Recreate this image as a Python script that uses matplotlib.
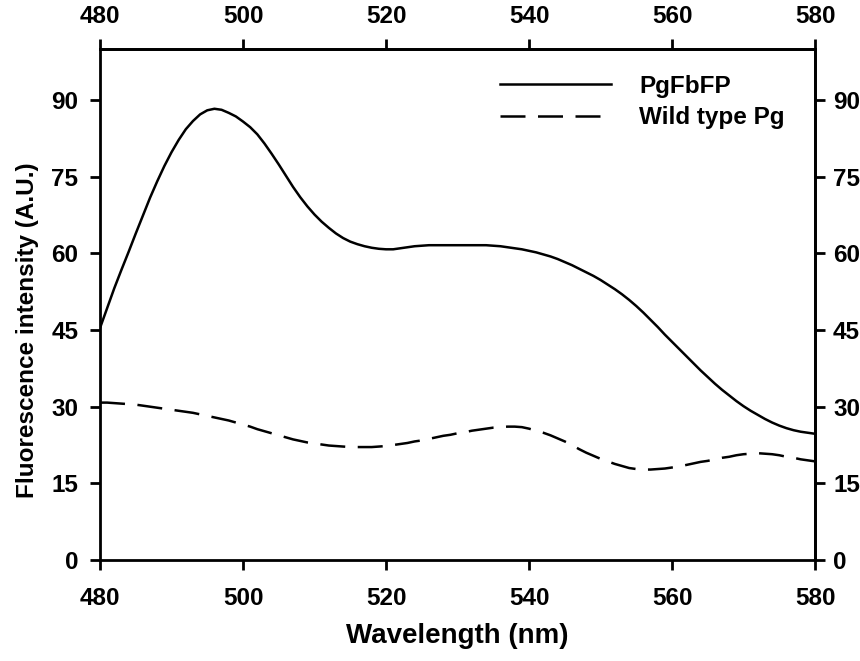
import matplotlib
matplotlib.use("Agg")
import matplotlib.pyplot as plt

plt.rcParams['font.family'] = ['Liberation Sans', 'DejaVu Sans']
plt.rcParams['font.weight'] = 'bold'

wavelength = list(range(480, 581))
pgfbfp = [45.4, 49.3, 53.2, 56.8, 60.3, 63.9, 67.4, 70.9, 74.1, 77.1,
          79.8, 82.2, 84.3, 85.9, 87.2, 88.0, 88.3, 88.1, 87.5, 86.8,
          85.8, 84.7, 83.3, 81.5, 79.5, 77.4, 75.2, 73.0, 71.0, 69.2,
          67.6, 66.2, 65.0, 63.9, 63.0, 62.3, 61.8, 61.4, 61.1, 60.9,
          60.8, 60.8, 61.0, 61.2, 61.4, 61.5, 61.6, 61.6, 61.6, 61.6,
          61.6, 61.6, 61.6, 61.6, 61.6, 61.5, 61.4, 61.2, 61.0, 60.8,
          60.5, 60.2, 59.8, 59.4, 58.9, 58.3, 57.7, 57.0, 56.3, 55.6,
          54.8, 53.9, 53.0, 52.0, 50.9, 49.7, 48.4, 47.0, 45.6, 44.1,
          42.7, 41.3, 39.9, 38.5, 37.1, 35.8, 34.5, 33.3, 32.2, 31.1,
          30.1, 29.2, 28.4, 27.6, 26.9, 26.3, 25.8, 25.4, 25.1, 24.9,
          24.7]
wild_type = [30.8, 30.8, 30.7, 30.6, 30.5, 30.4, 30.2, 30.0, 29.8, 29.6,
             29.4, 29.2, 29.0, 28.8, 28.5, 28.2, 27.9, 27.6, 27.3, 26.9,
             26.5, 26.1, 25.6, 25.2, 24.8, 24.4, 24.0, 23.6, 23.3, 23.0,
             22.8, 22.6, 22.4, 22.3, 22.2, 22.1, 22.1, 22.1, 22.1, 22.2,
             22.3, 22.5, 22.7, 22.9, 23.2, 23.4, 23.7, 24.0, 24.3, 24.5,
             24.8, 25.0, 25.3, 25.5, 25.7, 25.9, 26.0, 26.1, 26.1, 26.0,
             25.7, 25.3, 24.9, 24.4, 23.8, 23.2, 22.5, 21.7, 21.0, 20.4,
             19.8, 19.3, 18.8, 18.4, 18.0, 17.8, 17.7, 17.7, 17.8, 17.9,
             18.1, 18.3, 18.6, 18.9, 19.2, 19.4, 19.7, 20.0, 20.2, 20.5,
             20.7, 20.8, 20.9, 20.8, 20.7, 20.5, 20.2, 20.0, 19.7, 19.5,
             19.3]

x_ticks = [480, 500, 520, 540, 560, 580]
y_ticks = [0, 15, 30, 45, 60, 75, 90]

fig = plt.figure(figsize=(8.6, 6.61), dpi=100)
ax = fig.add_axes([0.1163, 0.1528, 0.8314, 0.7731])

ax.plot(wavelength, pgfbfp, color='black', lw=1.8, label='PgFbFP')
ax.plot(wavelength, wild_type, color='black', lw=1.8, dashes=(10, 5),
        label='Wild type Pg')

ax.set_xlim(480, 580)
ax.set_ylim(0, 100)
ax.set_xticks(x_ticks)
ax.set_yticks(y_ticks)

for s in ax.spines.values():
    s.set_linewidth(2.0)

TL = 7
FS = 17.5
ax.xaxis.set_tick_params(direction='out', length=TL, width=2, labelsize=FS, pad=12.5)
ax.yaxis.set_tick_params(direction='out', length=TL, width=2, labelsize=FS, pad=8.5)

top = ax.secondary_xaxis('top')
top.set_xticks(x_ticks)
top.tick_params(direction='out', length=TL, width=2, labelsize=FS, pad=8)
top.spines['top'].set_linewidth(2.0)

right = ax.secondary_yaxis('right')
right.set_yticks(y_ticks)
right.tick_params(direction='out', length=TL, width=2, labelsize=FS, pad=6)
right.spines['right'].set_linewidth(2.0)

for a in (ax, top, right):
    for lab in a.get_xticklabels() + a.get_yticklabels():
        lab.set_fontweight('bold')

ax.set_xlabel('Wavelength (nm)', fontsize=20, fontweight='bold', labelpad=9)
ax.set_ylabel('Fluorescence intensity (A.U.)', fontsize=17.5, fontweight='bold')
ax.yaxis.set_label_coords(-0.085, 0.45)

leg = ax.legend(loc='upper left', bbox_to_anchor=(0.5594, 0.95),
                frameon=False, fontsize=FS, handlelength=4.58,
                handletextpad=1.15, borderpad=0, borderaxespad=0,
                labelspacing=0.36)
for t in leg.get_texts():
    t.set_fontweight('bold')

fig.savefig('out.png', dpi=100)
